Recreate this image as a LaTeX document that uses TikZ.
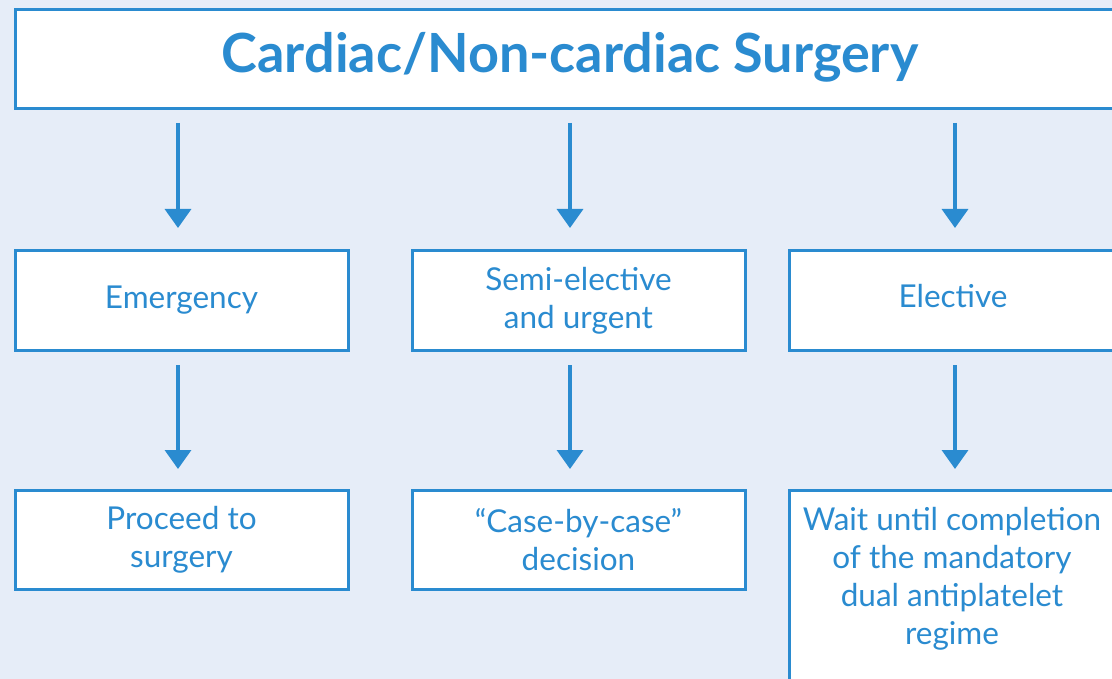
\documentclass[tikz,border=0pt]{standalone}
\usepackage{fontspec}
\setmainfont{Lato}
\usetikzlibrary{arrows.meta}
\definecolor{bg}{HTML}{E6EDF8}
\definecolor{bl}{HTML}{2A8BD0}
\tikzset{
  box/.style={draw=bl, line width=3pt, fill=white, text=bl, align=center, inner sep=0pt, minimum width=333pt, minimum height=99pt},
  arr/.style={draw=bl, line width=3.5pt, -{Triangle[width=26pt,length=19pt]}},
  txt/.style={font=\fontsize{31.5}{38}\selectfont}
}
\begin{document}
\begin{tikzpicture}[x=1pt,y=-1pt]
\useasboundingbox (0,0) rectangle (1112,679);
\clip (0,0) rectangle (1112,679);
\fill[bg] (0,0) rectangle (1112,679);
\node[box, minimum width=1110pt, minimum height=99pt, anchor=north west] (top) at (13.5,8.5) {};
\node[text=bl, font=\fontsize{54}{60}\selectfont\bfseries] (title) at (570,57) {Cardiac/Non-cardiac Surgery};
\node[box, anchor=north west, txt] (em) at (13.5,249.5) {Emergency};
\node[box, anchor=north west, txt] (se) at (410.5,249.5) {Semi-elective\\and urgent};
\node[box, anchor=north west, txt] (el) at (787.5,249.5) {};
\node[text=bl, txt] (elt) at (953,296) {Elective};
\node[box, anchor=north west, txt] (pr) at (13.5,488.5) {Proceed to\\surgery};
\node[box, anchor=north west, txt] (cb) at (410.5,488.5) {“Case-by-case”\\decision};
\node[box, anchor=north west, minimum height=220pt] (wt) at (787.5,488.5) {};
\node[text=bl, txt, align=center, anchor=north, inner sep=0pt] (wtt) at (952,507) {Wait until completion\\of the mandatory\\dual antiplatelet\\regime};
\coordinate (a1s) at (178,123); \coordinate (a1e) at (178,228);
\coordinate (a2s) at (570,123); \coordinate (a2e) at (570,228);
\coordinate (a3s) at (955,123); \coordinate (a3e) at (955,228);
\coordinate (b1s) at (178,365); \coordinate (b1e) at (178,469);
\coordinate (b2s) at (570,365); \coordinate (b2e) at (570,469);
\coordinate (b3s) at (955,365); \coordinate (b3e) at (955,469);
\draw[arr] (a1s) -- (a1e);
\draw[arr] (a2s) -- (a2e);
\draw[arr] (a3s) -- (a3e);
\draw[arr] (b1s) -- (b1e);
\draw[arr] (b2s) -- (b2e);
\draw[arr] (b3s) -- (b3e);
\end{tikzpicture}
\end{document}
